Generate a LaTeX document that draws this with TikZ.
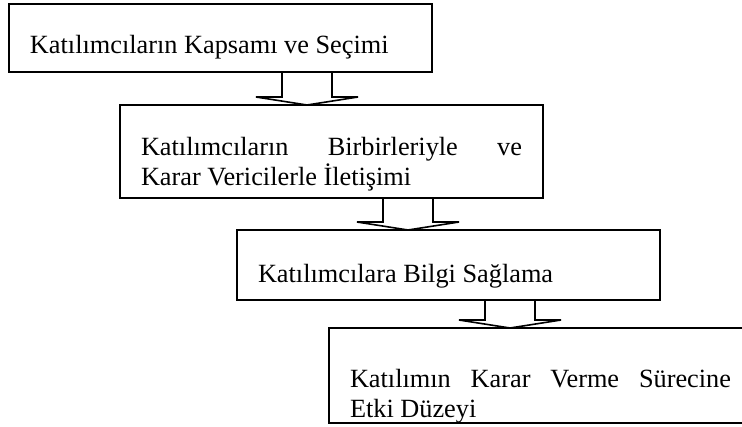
\documentclass[tikz,border=0pt]{standalone}
\usepackage{fontspec}
\setmainfont{Liberation Serif}
\usetikzlibrary{positioning, calc}
\tikzstyle{stage} = [rectangle, draw=black, line width=1.6pt, anchor=north west, outer sep=0pt, inner xsep=21pt, inner ysep=0pt, text width=381pt, align=justify, font=\fontsize{26.3}{30}\selectfont]
\tikzstyle{blockarrow} = [draw=black, line width=1.6pt, line join=miter]
% hollow block arrow from the bottom of #1 to the top of #2, #3 = centre measured from #1's left side
\newcommand{\flowarrow}[3]{%
  \coordinate (top) at ($(#1.south west)+(#3,0)$);
  \coordinate (tip) at (top |- #2.north);
  \draw[blockarrow] ($(top)+(-25,0)$) -- ($(tip)+(-25,-8)$) -- ($(tip)+(-51,-8)$) -- (tip)
    -- ($(tip)+(51,-8)$) -- ($(tip)+(25,-8)$) -- ($(top)+(25,0)$);
}

\begin{document}
\begin{tikzpicture}[x=1pt, y=-1pt]
  \useasboundingbox (0,0) rectangle (742,426);
  \node (kapsam) [stage, text height=49pt, text depth=19pt] at (9,4) {Katılımcıların Kapsamı ve Seçimi};
  \node (iletisim) [stage, text height=50pt, text depth=43pt, below right=33pt and 111pt of kapsam.south west] {Katılımcıların Birbirleriyle ve\linebreak
    Karar Vericilerle İletişimi};
  \node (bilgi) [stage, text height=52pt, text depth=18pt, below right=32pt and 117pt of iletisim.south west] {Katılımcılara Bilgi Sağlama};
  \node (etki) [stage, text height=59pt, text depth=36pt, below right=28pt and 92pt of bilgi.south west] {Katılımın Karar Verme Sürecine\linebreak
    Etki Düzeyi};
  \flowarrow{kapsam}{iletisim}{298}
  \flowarrow{iletisim}{bilgi}{288}
  \flowarrow{bilgi}{etki}{273}
\end{tikzpicture}
\end{document}
